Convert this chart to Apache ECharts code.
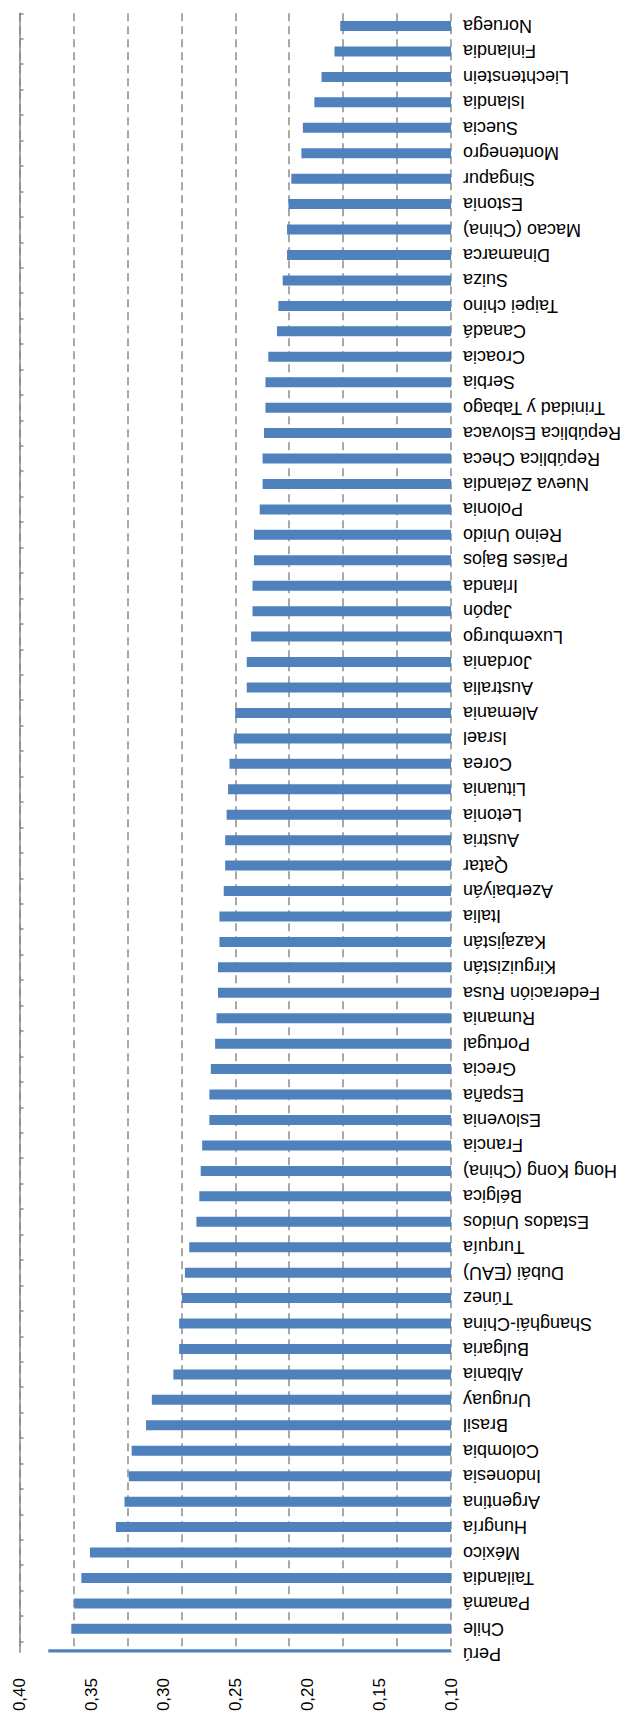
<!DOCTYPE html>
<html>
<head>
<meta charset="utf-8">
<script src="https://cdn.jsdelivr.net/npm/echarts@6/dist/echarts.min.js"></script>
<style>
  html, body { margin: 0; padding: 0; background: #fff; }
  #chart { width: 629px; height: 1716px; }
</style>
</head>
<body>
<div id="chart"></div>
<script>
// the reference is an upside-down chart: Perú is the bottom row, Noruega the top one
const countries = ['Perú', 'Chile', 'Panamá', 'Tailandia', 'México', 'Hungría', 'Argentina', 'Indonesia',
  'Colombia', 'Brasil', 'Uruguay', 'Albania', 'Bulgaria', 'Shanghái-China', 'Túnez', 'Dubái (EAU)',
  'Turquía', 'Estados Unidos', 'Bélgica', 'Hong Kong (China)', 'Francia', 'Eslovenia', 'España', 'Grecia',
  'Portugal', 'Rumania', 'Federación Rusa', 'Kirguizistán', 'Kazajistán', 'Italia', 'Azerbaiyán', 'Qatar',
  'Austria', 'Letonia', 'Lituania', 'Corea', 'Israel', 'Alemania', 'Australia', 'Jordania',
  'Luxemburgo', 'Japón', 'Irlanda', 'Países Bajos', 'Reino Unido', 'Polonia', 'Nueva Zelandia',
  'República Checa', 'República Eslovaca', 'Trinidad y Tabago', 'Serbia', 'Croacia', 'Canadá',
  'Taipei chino', 'Suiza', 'Dinamarca', 'Macao (China)', 'Estonia', 'Singapur', 'Montenegro', 'Suecia',
  'Islandia', 'Liechtenstein', 'Finlandia', 'Noruega']
const values = [0.380, 0.364, 0.362, 0.357, 0.351, 0.333, 0.327, 0.324,
  0.322, 0.312, 0.308, 0.293, 0.289, 0.289, 0.287, 0.285,
  0.282, 0.277, 0.275, 0.274, 0.273, 0.268, 0.268, 0.267,
  0.264, 0.263, 0.262, 0.262, 0.261, 0.261, 0.258, 0.257,
  0.257, 0.256, 0.255, 0.254, 0.251, 0.250, 0.242, 0.242,
  0.239, 0.238, 0.238, 0.237, 0.237, 0.233, 0.231,
  0.231, 0.230, 0.229, 0.229, 0.227, 0.221,
  0.220, 0.217, 0.214, 0.214, 0.213, 0.211, 0.204, 0.203,
  0.195, 0.190, 0.181, 0.177]
const valueTicks = [0.10, 0.15, 0.20, 0.25, 0.30, 0.35, 0.40]
const gridSteps = 8 // dashed lines do not line up with the labels in the original

const font = "'Liberation Sans', Arial, sans-serif"
const chart = echarts.init(document.getElementById('chart'), null, { renderer: 'svg' })

chart.setOption({
  animation: false,
  grid: { left: 19.5, right: 178, top: 13.3, bottom: 49, containLabel: false },
  xAxis: [{
    type: 'value',
    position: 'bottom',
    inverse: true,
    min: valueTicks[0],
    max: valueTicks[valueTicks.length - 1],
    interval: 0.05,
    axisLine: { show: false },
    axisTick: { show: false },
    splitLine: { show: false },
    axisLabel: {
      rotate: 90,
      margin: 11,
      fontSize: 17,
      color: '#000',
      fontFamily: font,
      formatter: (v) => v.toFixed(2).replace('.', ',')
    }
  }, {
    type: 'value',
    position: 'top',
    min: 0,
    max: gridSteps,
    interval: 1,
    axisLine: { show: false },
    axisTick: { show: false },
    axisLabel: { show: false },
    splitLine: { show: true, lineStyle: { color: '#8c8c8c', width: 1.5, type: [8, 5] } }
  }],
  yAxis: {
    type: 'category',
    position: 'right',
    data: countries,
    axisLine: { lineStyle: { color: '#8a8a8a', width: 1.5 } },
    axisTick: { show: true, interval: 0, length: 4, lineStyle: { color: '#8a8a8a', width: 1.5 } },
    axisLabel: { interval: 0, rotate: 180, margin: 12, fontSize: 18, color: '#000', fontFamily: font }
  },
  series: [{
    type: 'bar',
    xAxisIndex: 0,
    data: values,
    barWidth: 10,
    itemStyle: { color: '#4f81bd' }
  }],
  graphic: [{
    // the reference is cut off just below the top edge of the last bar
    type: 'rect',
    z: 100,
    shape: { x: 0, y: 1652.5, width: 458, height: 24.5 },
    style: { fill: '#fff' }
  }]
})
</script>
</body>
</html>
